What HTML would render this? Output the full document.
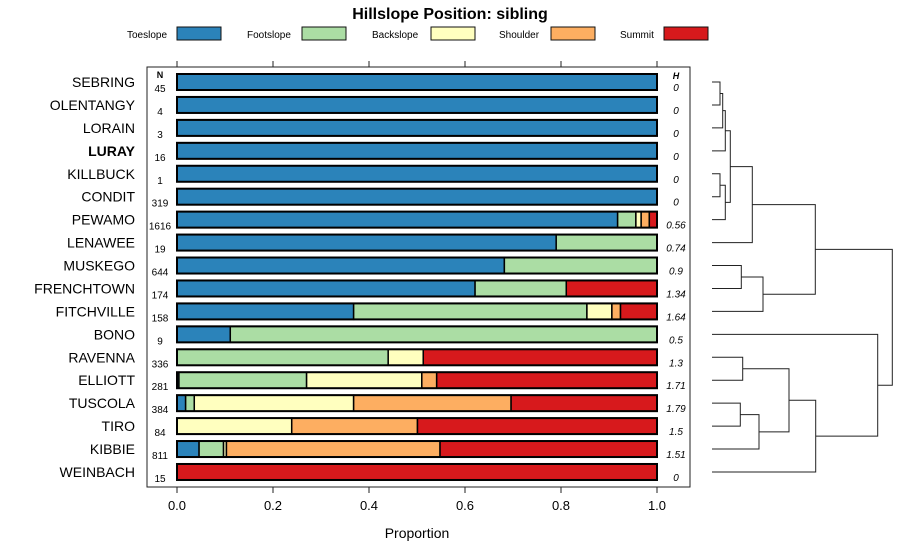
<!DOCTYPE html>
<html><head><meta charset="utf-8"><style>
body{margin:0;background:#fff;}
svg{display:block;font-family:"Liberation Sans",sans-serif;}
</style></head><body>
<svg id="c" width="900" height="560" xmlns="http://www.w3.org/2000/svg">
<text x="450" y="19" text-anchor="middle" font-size="16" font-weight="bold">Hillslope Position: sibling</text>
<g id="legend"></g>
<rect x="147" y="67" width="543" height="420" fill="none" stroke="#222" stroke-width="1"/>
<g id="bars"></g>
<g id="axis"></g>
<text x="417" y="538" text-anchor="middle" font-size="14">Proportion</text>
<g id="dendro"></g>
</svg>
<script>
const series = ["Toeslope","Footslope","Backslope","Shoulder","Summit"];
const colors = ["#2b83ba","#abdda4","#ffffbf","#fdae61","#d7191c"];
const soils = ["SEBRING","OLENTANGY","LORAIN","LURAY","KILLBUCK","CONDIT","PEWAMO","LENAWEE","MUSKEGO","FRENCHTOWN","FITCHVILLE","BONO","RAVENNA","ELLIOTT","TUSCOLA","TIRO","KIBBIE","WEINBACH"];
const nVals = [45,4,3,16,1,319,1616,19,644,174,158,9,336,281,384,84,811,15];
const hVals = ["0","0","0","0","0","0","0.56","0.74","0.9","1.34","1.64","0.5","1.3","1.71","1.79","1.5","1.51","0"];
const toeslope  = [1,1,1,1,1,1,0.918,0.790,0.682,0.621,0.368,0.111,0,0.004,0.018,0,0.046,0];
const footslope = [0,0,0,0,0,0,0.038,0.210,0.318,0.190,0.486,0.889,0.440,0.266,0.018,0,0.051,0];
const backslope = [0,0,0,0,0,0,0.011,0,0,0,0.052,0,0.073,0.240,0.332,0.239,0.006,0];
const shoulder  = [0,0,0,0,0,0,0.017,0,0,0,0.018,0,0,0.031,0.328,0.262,0.445,0];
const summit    = [0,0,0,0,0,0,0.016,0,0,0.189,0.076,0,0.487,0.459,0.304,0.499,0.452,1];
const xTicks = [0,0.2,0.4,0.6,0.8,1.0];
const xTickLabels = ["0.0","0.2","0.4","0.6","0.8","1.0"];

const NS="http://www.w3.org/2000/svg";
function mk(tag,attrs,parent,text){const e=document.createElementNS(NS,tag);for(const k in attrs)e.setAttribute(k,attrs[k]);if(text!==undefined)e.textContent=text;parent.appendChild(e);return e;}
const xS=v=>177+v*480;
const yS=i=>82+i*22.94;

// legend
const leg=document.getElementById('legend');
const legTextX=[127,247,372,499,620], legBoxX=[177,302,431,551,664];
series.forEach((s,i)=>{
  const t=mk('text',{x:legTextX[i],y:38,'font-size':10},leg,s);
  
  
  const r=mk('rect',{x:legBoxX[i],y:27,width:44,height:13,fill:colors[i],stroke:'#111','stroke-width':1},leg);
  
  
});

// bars
const bars=document.getElementById('bars');
mk('text',{x:160,y:78,'font-size':9,'font-weight':'bold','text-anchor':'middle'},bars,'N');
mk('text',{x:676,y:79,'font-size':9,'font-weight':'bold','font-style':'italic','text-anchor':'middle'},bars,'H');
const all=[toeslope,footslope,backslope,shoulder,summit];
soils.forEach((s,i)=>{
  const y=yS(i);
  const lab=mk('text',{x:135,y:y+5,'font-size':14,'text-anchor':'end','font-weight':s==='LURAY'?'bold':'normal'},bars,s);
  
  
  const nt=mk('text',{x:160,y:y+10,'font-size':10,'text-anchor':'middle'},bars,String(nVals[i]));
  
  
  const ht=mk('text',{x:676,y:y+9,'font-size':10,'font-style':'italic','text-anchor':'middle'},bars,hVals[i]);
  
  
  let cum=0;
  all.forEach((arr,k)=>{
    const v=arr[i]; if(v<=0)return;
    const r=mk('rect',{x:xS(cum),y:y-8,width:v*480,height:16,fill:colors[k],stroke:'#000','stroke-width':1.5},bars);
    
    
    cum+=v;
  });
  const o=mk('rect',{x:xS(0),y:y-8,width:480,height:16,fill:'none',stroke:'#000','stroke-width':2},bars);
  
  
});

// axis
const ax=document.getElementById('axis');
xTicks.forEach((t,i)=>{
  mk('line',{x1:xS(t),x2:xS(t),y1:487,y2:493,stroke:'#222'},ax);
  mk('line',{x1:xS(t),x2:xS(t),y1:61,y2:67,stroke:'#222'},ax);
  const tl=mk('text',{x:xS(t),y:510,'font-size':13,'text-anchor':'middle'},ax,xTickLabels[i]);
  
  
});

// dendrogram: [left, right, height x]
const dg=document.getElementById('dendro');
const pos={};
soils.forEach((s,i)=>pos[s]={x:712,y:yS(i)});
const merges=[
 ["SEBRING","OLENTANGY","a",720],["a","LORAIN","b",722.7],["b","LURAY","c",725.3],
 ["KILLBUCK","CONDIT","d",720],["d","PEWAMO","e",725.3],["c","e","f",730.3],["f","LENAWEE","g",752.3],
 ["MUSKEGO","FRENCHTOWN","h",741.3],["h","FITCHVILLE","i",763],["g","i","j",815.3],
 ["RAVENNA","ELLIOTT","k",742.7],["TUSCOLA","TIRO","l",740.3],["l","KIBBIE","m",759],["k","m","n",789],
 ["n","WEINBACH","o",815.7],["BONO","o","p",877.7],["j","p","q",892.3]
];
merges.forEach(m=>{
  const A=pos[m[0]],B=pos[m[1]],h=m[3];
  const p=mk('path',{d:`M${A.x},${A.y}H${h}V${B.y}H${B.x}`,fill:'none',stroke:'#222','stroke-width':1},dg);
  
  
  pos[m[2]]={x:h,y:(A.y+B.y)/2};
});
</script>
</body></html>
